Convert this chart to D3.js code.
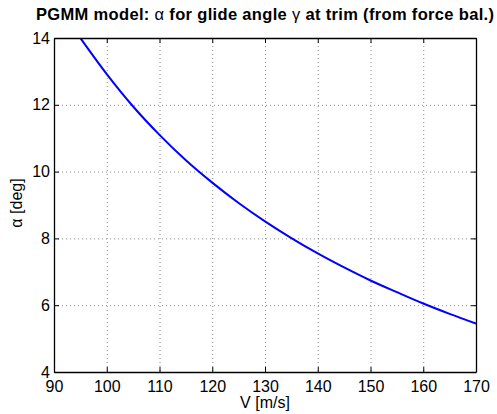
<!DOCTYPE html>
<html>
<head>
<meta charset="utf-8">
<script src="https://cdn.jsdelivr.net/npm/d3@7/dist/d3.min.js"></script>
<style>
  html, body { margin: 0; padding: 0; background: #fff; }
  svg { display: block; }
  text { font-family: "Liberation Sans", Arial, Helvetica, sans-serif; fill: #000; }
</style>
</head>
<body>
<svg id="chart" width="497" height="414"></svg>
<script>
// Trim angle of attack vs airspeed (force balance)
const speed = [95, 100, 105, 110, 115, 120, 125, 130, 135, 140, 145, 150, 155, 160, 165, 170];
const alphaDeg = [14.0, 12.92, 11.95, 11.10, 10.34, 9.67, 9.06, 8.51, 8.01, 7.55, 7.13, 6.74, 6.39, 6.05, 5.74, 5.45];
const xTicks = [90, 100, 110, 120, 130, 140, 150, 160, 170];
const yTicks = [4, 6, 8, 10, 12, 14];

const svg = d3.select("#chart");
const m = { left: 54, right: 476, top: 38, bottom: 372 };
const fs = 16;

const x = d3.scaleLinear().domain([90, 170]).range([m.left, m.right]);
const y = d3.scaleLinear().domain([4, 14]).range([m.bottom, m.top]);

// dotted grid
const grid = svg.append("g").attr("stroke", "#8c8c8c").attr("stroke-width", 1)
  .attr("stroke-dasharray", "1,3");
xTicks.slice(1, -1).forEach(t => {
  grid.append("line").attr("x1", x(t) + 0.5).attr("x2", x(t) + 0.5)
    .attr("y1", m.top).attr("y2", m.bottom);
});
yTicks.slice(1, -1).forEach(t => {
  grid.append("line").attr("x1", m.left).attr("x2", m.right)
    .attr("y1", y(t) + 0.5).attr("y2", y(t) + 0.5);
});

// curve
svg.append("clipPath").attr("id", "plotclip").append("rect")
  .attr("x", m.left).attr("y", m.top).attr("width", m.right - m.left).attr("height", m.bottom - m.top);
const line = d3.line().x((d, i) => x(speed[i])).y(d => y(d)).curve(d3.curveMonotoneX);
svg.append("path").datum(alphaDeg).attr("d", line)
  .attr("clip-path", "url(#plotclip)")
  .attr("fill", "none").attr("stroke", "#0000ff").attr("stroke-width", 2);

// axes with inward ticks on all sides
const tl = 5;
const axB = d3.axisBottom(x).tickValues(xTicks).tickSizeInner(-tl).tickSizeOuter(0).tickPadding(4);
const axT = d3.axisTop(x).tickValues(xTicks).tickSizeInner(-tl).tickSizeOuter(0).tickFormat("");
const axL = d3.axisLeft(y).tickValues(yTicks).tickSizeInner(-tl).tickSizeOuter(0).tickPadding(4);
const axR = d3.axisRight(y).tickValues(yTicks).tickSizeInner(-tl).tickSizeOuter(0).tickFormat("");

function style(g) {
  g.selectAll("path").attr("stroke", "#000").attr("stroke-width", 1.3);
  g.selectAll("line").attr("stroke", "#000");
  g.selectAll("text").attr("font-size", fs).attr("font-family", '"Liberation Sans", Arial, sans-serif');
}
svg.append("g").attr("transform", `translate(0,${m.bottom})`).call(axB).call(style)
  .selectAll("text").attr("y", 20).attr("dy", 0);
svg.append("g").attr("transform", `translate(0,${m.top})`).call(axT).call(style);
svg.append("g").attr("transform", `translate(${m.left},0)`).call(axL).call(style);
svg.append("g").attr("transform", `translate(${m.right},0)`).call(axR).call(style);

// labels
svg.append("text").attr("x", (m.left + m.right) / 2).attr("y", 408)
  .attr("text-anchor", "middle").attr("font-size", fs).text("V [m/s]");
svg.append("text").attr("transform", `translate(22,203) rotate(-90)`)
  .attr("text-anchor", "middle").attr("font-size", fs).text("α [deg]");

const title = svg.append("text").attr("x", 265).attr("y", 20)
  .attr("text-anchor", "middle").attr("font-size", 16.5).attr("font-weight", "bold")
  .attr("textLength", 458).attr("lengthAdjust", "spacing");
title.append("tspan").text("PGMM model: ");
title.append("tspan").attr("font-weight", "normal").text("α");
title.append("tspan").text(" for glide angle ");
title.append("tspan").attr("font-weight", "normal").text("γ");
title.append("tspan").text(" at trim (from force bal.)");
</script>
</body>
</html>
